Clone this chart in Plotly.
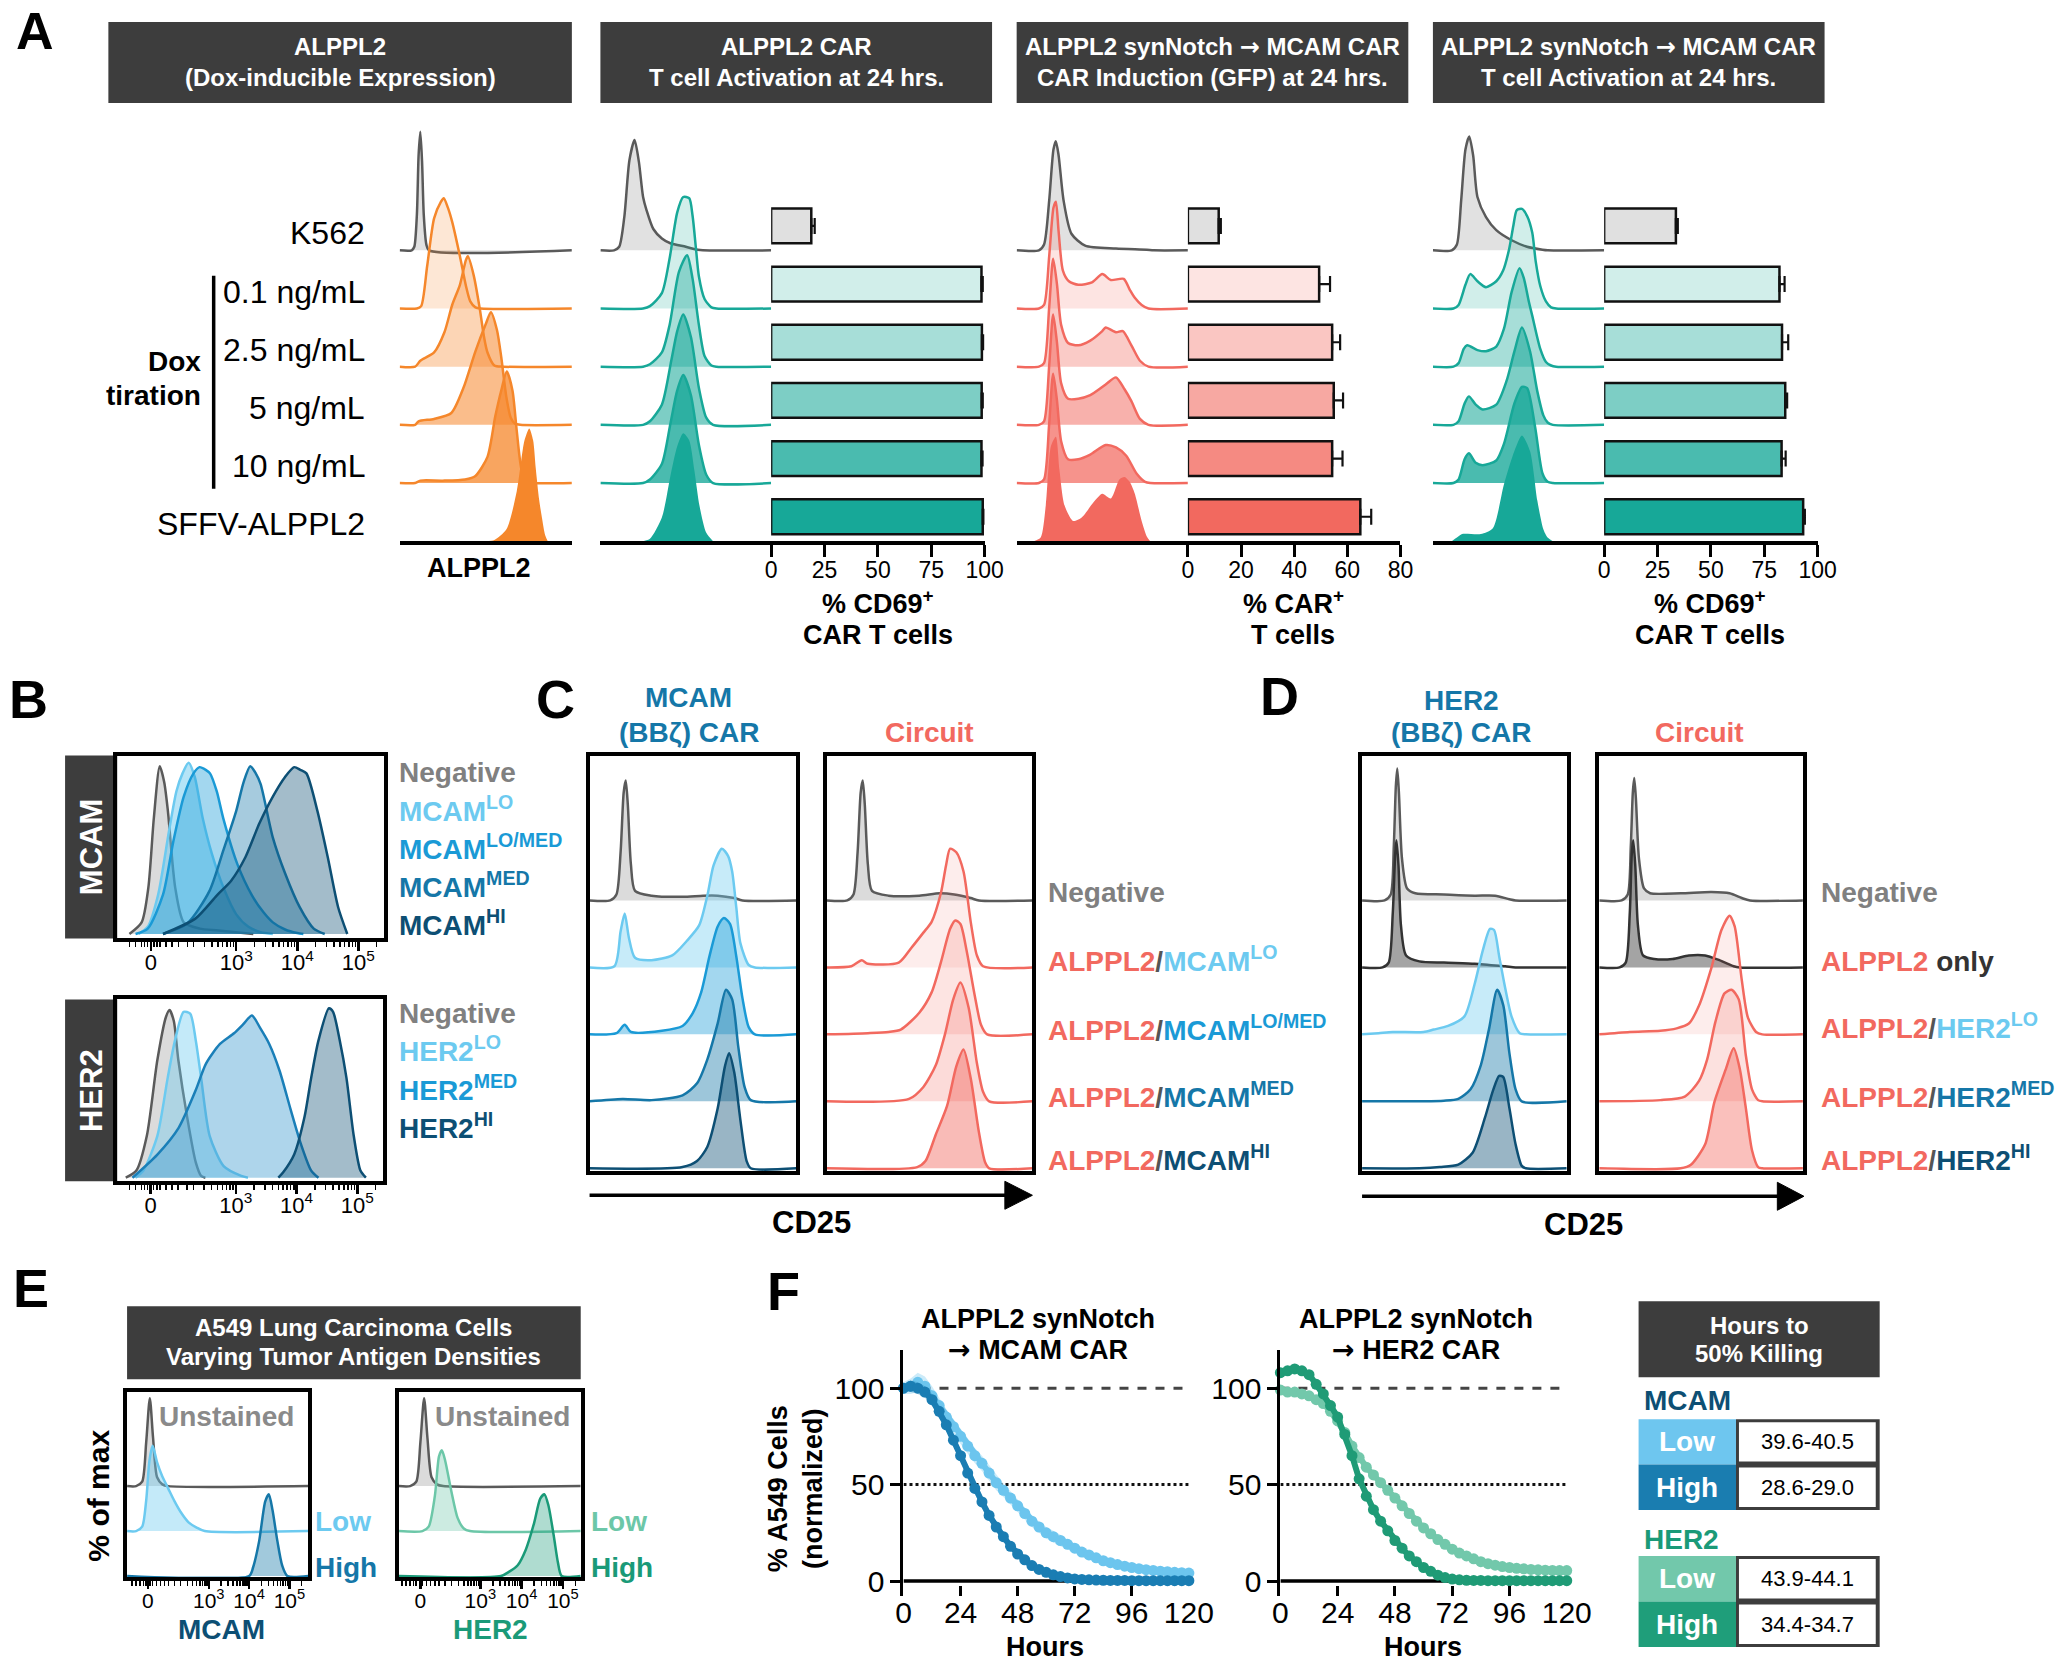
import math
import plotly.graph_objects as go

W, H = 2070, 1664
FONT = "Liberation Sans, Arial, Helvetica, sans-serif"
ARROW = "<span style='font-family:DejaVu Sans'>\u2192</span>"

# ============================ DATA ============================
# ---- Panel A ----
A_headers = [("ALPPL2", "(Dox-inducible Expression)"),
             ("ALPPL2 CAR", "T cell Activation at 24 hrs."),
             ("ALPPL2 synNotch " + ARROW + " MCAM CAR", "CAR Induction (GFP) at 24 hrs."),
             ("ALPPL2 synNotch " + ARROW + " MCAM CAR", "T cell Activation at 24 hrs.")]
A_rows = ["K562", "0.1 ng/mL", "2.5 ng/mL", "5 ng/mL", "10 ng/mL", "SFFV-ALPPL2"]

# histogram outlines: (x as fraction of plot width, height as fraction of peak unit)
A1_K562 = [(0, 0), (0.07, 0), (0.085, 0.03), (0.1, 0.3), (0.11, 0.8), (0.12, 1.0), (0.13, 0.75), (0.14, 0.3), (0.155, 0.05), (0.17, 0), (1, 0)]
A1_01 = [(0, 0), (0.1, 0), (0.125, 0.02), (0.16, 0.36), (0.2, 0.76), (0.24, 0.9), (0.256, 0.93), (0.28, 0.85), (0.305, 0.73), (0.35, 0.44), (0.385, 0.19), (0.41, 0.06), (0.44, 0.01), (0.47, 0), (1, 0)]
A1_25 = [(0, 0), (0.09, 0), (0.12, 0.05), (0.2, 0.12), (0.26, 0.29), (0.305, 0.52), (0.35, 0.69), (0.385, 0.9), (0.396, 0.93), (0.43, 0.77), (0.465, 0.49), (0.49, 0.25), (0.51, 0.12), (0.55, 0.01), (0.6, 0), (1, 0)]
A1_5 = [(0, 0), (0.09, 0), (0.11, 0.03), (0.2, 0.05), (0.3, 0.1), (0.37, 0.31), (0.44, 0.62), (0.5, 0.85), (0.53, 0.95), (0.565, 0.8), (0.59, 0.57), (0.62, 0.23), (0.645, 0.06), (0.67, 0.01), (0.7, 0), (1, 0)]
A1_10 = [(0, 0), (0.09, 0), (0.12, 0.02), (0.25, 0.02), (0.38, 0.03), (0.44, 0.06), (0.51, 0.22), (0.555, 0.56), (0.59, 0.78), (0.622, 0.94), (0.655, 0.78), (0.68, 0.44), (0.71, 0.1), (0.745, 0.01), (0.77, 0), (1, 0)]
A1_SFFV = [(0.5, 0), (0.55, 0.01), (0.62, 0.1), (0.68, 0.42), (0.725, 0.85), (0.753, 0.95), (0.775, 0.85), (0.79, 0.62), (0.81, 0.35), (0.826, 0.2), (0.845, 0.05), (0.86, 0)]

A2_K562 = [(0, 0), (0.08, 0), (0.11, 0.03), (0.14, 0.28), (0.17, 0.76), (0.2, 0.93), (0.225, 0.75), (0.25, 0.45), (0.27, 0.34), (0.31, 0.18), (0.36, 0.1), (0.41, 0.06), (0.5, 0.03), (0.57, 0.005), (0.6, 0), (1, 0)]
A2_01 = [(0, 0), (0.25, 0), (0.29, 0.02), (0.36, 0.13), (0.405, 0.42), (0.45, 0.81), (0.485, 0.94), (0.52, 0.93), (0.54, 0.78), (0.56, 0.5), (0.577, 0.27), (0.61, 0.08), (0.65, 0.01), (0.68, 0), (1, 0)]
A2_25 = [(0, 0), (0.25, 0), (0.29, 0.02), (0.36, 0.12), (0.405, 0.35), (0.46, 0.8), (0.508, 0.94), (0.54, 0.74), (0.577, 0.35), (0.61, 0.09), (0.65, 0.01), (0.68, 0), (1, 0)]
A2_5 = [(0, 0), (0.25, 0), (0.29, 0.03), (0.36, 0.17), (0.415, 0.54), (0.45, 0.79), (0.485, 0.93), (0.53, 0.74), (0.577, 0.31), (0.62, 0.06), (0.66, 0), (1, 0)]
A2_10 = [(0, 0), (0.25, 0), (0.29, 0.03), (0.36, 0.16), (0.41, 0.5), (0.45, 0.78), (0.485, 0.91), (0.53, 0.74), (0.577, 0.32), (0.62, 0.07), (0.66, 0), (1, 0)]
A2_SFFV = [(0.25, 0), (0.29, 0.02), (0.36, 0.2), (0.41, 0.55), (0.45, 0.8), (0.485, 0.91), (0.52, 0.85), (0.55, 0.6), (0.58, 0.3), (0.62, 0.07), (0.66, 0)]

A3_K562 = [(0, 0), (0.13, 0), (0.16, 0.05), (0.19, 0.42), (0.215, 0.85), (0.229, 0.92), (0.245, 0.8), (0.274, 0.42), (0.32, 0.14), (0.4, 0.04), (0.58, 0.015), (0.76, 0.005), (0.8, 0), (1, 0)]
A3_01 = [(0, 0), (0.13, 0), (0.16, 0.03), (0.19, 0.44), (0.215, 0.85), (0.229, 0.9), (0.245, 0.65), (0.27, 0.32), (0.305, 0.23), (0.36, 0.2), (0.44, 0.22), (0.5, 0.29), (0.55, 0.24), (0.625, 0.25), (0.66, 0.16), (0.69, 0.09), (0.73, 0.03), (0.77, 0), (1, 0)]
A3_25 = [(0, 0), (0.13, 0), (0.16, 0.03), (0.19, 0.5), (0.213, 0.91), (0.235, 0.7), (0.26, 0.35), (0.3, 0.2), (0.36, 0.18), (0.43, 0.22), (0.5, 0.3), (0.52, 0.33), (0.58, 0.29), (0.62, 0.3), (0.67, 0.18), (0.72, 0.05), (0.77, 0), (1, 0)]
A3_5 = [(0, 0), (0.13, 0), (0.16, 0.03), (0.19, 0.5), (0.213, 0.93), (0.235, 0.7), (0.26, 0.35), (0.3, 0.22), (0.36, 0.22), (0.43, 0.25), (0.52, 0.34), (0.58, 0.4), (0.63, 0.3), (0.67, 0.2), (0.72, 0.05), (0.77, 0), (1, 0)]
A3_10 = [(0, 0), (0.13, 0), (0.16, 0.03), (0.19, 0.5), (0.213, 0.92), (0.235, 0.7), (0.26, 0.35), (0.3, 0.2), (0.36, 0.2), (0.43, 0.24), (0.52, 0.32), (0.58, 0.3), (0.64, 0.23), (0.7, 0.08), (0.75, 0.01), (0.78, 0), (1, 0)]
A3_SFFV = [(0.1, 0), (0.14, 0.03), (0.17, 0.3), (0.2, 0.8), (0.229, 0.88), (0.25, 0.6), (0.28, 0.3), (0.33, 0.17), (0.38, 0.2), (0.45, 0.33), (0.5, 0.4), (0.55, 0.36), (0.6, 0.52), (0.63, 0.54), (0.66, 0.5), (0.69, 0.4), (0.73, 0.17), (0.76, 0.04), (0.78, 0)]

A4_K562 = [(0, 0), (0.11, 0), (0.14, 0.05), (0.165, 0.42), (0.19, 0.85), (0.212, 0.96), (0.235, 0.8), (0.26, 0.45), (0.31, 0.28), (0.37, 0.17), (0.46, 0.085), (0.55, 0.03), (0.64, 0.005), (0.67, 0), (1, 0)]
A4_01 = [(0, 0), (0.12, 0), (0.15, 0.03), (0.19, 0.2), (0.218, 0.29), (0.26, 0.23), (0.31, 0.18), (0.37, 0.23), (0.41, 0.32), (0.445, 0.5), (0.47, 0.7), (0.49, 0.83), (0.52, 0.84), (0.55, 0.78), (0.58, 0.64), (0.6, 0.4), (0.627, 0.19), (0.66, 0.06), (0.69, 0.01), (0.72, 0), (1, 0)]
A4_25 = [(0, 0), (0.12, 0), (0.15, 0.03), (0.18, 0.15), (0.2, 0.18), (0.26, 0.14), (0.31, 0.13), (0.37, 0.17), (0.415, 0.32), (0.46, 0.63), (0.506, 0.83), (0.53, 0.75), (0.56, 0.55), (0.58, 0.43), (0.627, 0.15), (0.66, 0.04), (0.69, 0.01), (0.72, 0), (1, 0)]
A4_5 = [(0, 0), (0.12, 0), (0.15, 0.03), (0.185, 0.18), (0.21, 0.24), (0.25, 0.17), (0.29, 0.13), (0.37, 0.17), (0.43, 0.37), (0.476, 0.62), (0.52, 0.82), (0.567, 0.62), (0.61, 0.28), (0.645, 0.08), (0.67, 0.02), (0.7, 0), (1, 0)]
A4_10 = [(0, 0), (0.12, 0), (0.15, 0.03), (0.185, 0.2), (0.21, 0.25), (0.25, 0.17), (0.29, 0.15), (0.37, 0.19), (0.415, 0.33), (0.476, 0.67), (0.52, 0.81), (0.55, 0.8), (0.597, 0.47), (0.64, 0.08), (0.67, 0.01), (0.7, 0), (1, 0)]
A4_SFFV = [(0.11, 0), (0.14, 0.03), (0.17, 0.06), (0.28, 0.06), (0.35, 0.11), (0.415, 0.48), (0.476, 0.76), (0.52, 0.89), (0.567, 0.76), (0.61, 0.34), (0.645, 0.1), (0.67, 0.03), (0.7, 0)]

# bar charts (% positive, +SEM)
A2_pct = [18.8, 98.5, 98.7, 98.6, 98.5, 99.1]
A2_sem = [1.6, 0.6, 0.6, 0.5, 0.5, 0.4]
A3_pct = [11.6, 49.4, 54.3, 54.9, 54.3, 64.9]
A3_sem = [0.8, 4.1, 3.0, 3.5, 3.9, 4.1]
A4_pct = [33.6, 82.1, 83.3, 84.8, 83.1, 93.2]
A4_sem = [0.9, 2.4, 2.9, 0.9, 1.9, 0.8]
A2_ticks = [0, 25, 50, 75, 100]
A3_ticks = [0, 20, 40, 60, 80]
A4_ticks = [0, 25, 50, 75, 100]

# ---- Panel B (x in log-decade display units, 0 shown at 1.6) ----
B_ticks = [1.6, 3, 4, 5]
B_ticktext = ["0", "10<sup>3</sup>", "10<sup>4</sup>", "10<sup>5</sup>"]
B_MCAM_neg = [(1.25, 0), (1.45, 0.065), (1.56, 0.26), (1.65, 0.65), (1.747, 0.94), (1.82, 0.85), (1.88, 0.69), (2.0, 0.26), (2.14, 0.065), (2.4, 0.03), (2.71, 0.02), (3.28, 0)]
B_MCAM_lo = [(1.4, 0), (1.55, 0.04), (1.72, 0.22), (1.9, 0.58), (2.02, 0.8), (2.12, 0.9), (2.22, 0.96), (2.32, 0.88), (2.45, 0.65), (2.6, 0.45), (2.79, 0.26), (3.0, 0.11), (3.2, 0.04), (3.4, 0.01), (3.6, 0)]
B_MCAM_lomed = [(1.35, 0), (1.55, 0.03), (1.8, 0.22), (1.97, 0.52), (2.14, 0.77), (2.3, 0.9), (2.4, 0.935), (2.5, 0.92), (2.57, 0.9), (2.68, 0.8), (2.79, 0.645), (3.02, 0.39), (3.26, 0.215), (3.45, 0.12), (3.6, 0.065), (3.8, 0.025), (4.0, 0.005), (4.1, 0)]
B_MCAM_med = [(1.8, 0), (2.2, 0.06), (2.56, 0.24), (2.79, 0.47), (3.0, 0.69), (3.12, 0.85), (3.23, 0.94), (3.32, 0.9), (3.4, 0.84), (3.6, 0.54), (3.8, 0.34), (4.04, 0.15), (4.27, 0.03), (4.45, 0)]
B_MCAM_hi = [(1.8, 0), (2.33, 0.086), (2.68, 0.215), (2.92, 0.3), (3.15, 0.43), (3.38, 0.62), (3.6, 0.77), (3.8, 0.88), (3.95, 0.935), (4.05, 0.92), (4.15, 0.9), (4.33, 0.69), (4.5, 0.43), (4.67, 0.15), (4.82, 0)]
B_HER2_neg = [(1.19, 0), (1.365, 0.04), (1.537, 0.235), (1.71, 0.66), (1.85, 0.9), (1.911, 0.94), (1.98, 0.88), (2.055, 0.66), (2.2, 0.34), (2.342, 0.086), (2.43, 0.01), (2.5, 0)]
B_HER2_lo = [(1.35, 0), (1.48, 0.04), (1.71, 0.235), (1.88, 0.56), (2.0, 0.77), (2.142, 0.93), (2.25, 0.92), (2.342, 0.77), (2.43, 0.56), (2.57, 0.235), (2.8, 0.065), (3.09, 0.01), (3.2, 0)]
B_HER2_med = [(1.3, 0), (1.71, 0.13), (2.06, 0.28), (2.34, 0.49), (2.51, 0.64), (2.74, 0.75), (2.97, 0.81), (3.12, 0.86), (3.265, 0.91), (3.4, 0.84), (3.55, 0.75), (3.72, 0.6), (3.9, 0.385), (4.07, 0.19), (4.24, 0.04), (4.36, 0)]
B_HER2_hi = [(3.7, 0), (3.78, 0.03), (3.96, 0.13), (4.13, 0.34), (4.24, 0.56), (4.36, 0.77), (4.532, 0.95), (4.6, 0.93), (4.71, 0.77), (4.82, 0.56), (4.94, 0.235), (5.05, 0.04), (5.14, 0)]
B_MCAM_labels = ["Negative", "MCAM<sup>LO</sup>", "MCAM<sup>LO/MED</sup>", "MCAM<sup>MED</sup>", "MCAM<sup>HI</sup>"]
B_HER2_labels = ["Negative", "HER2<sup>LO</sup>", "HER2<sup>MED</sup>", "HER2<sup>HI</sup>"]

# ---- Panel C (CD25, x fraction of box) ----
C_car_neg = [(0, 0), (0.1, 0), (0.13, 0.05), (0.15, 0.4), (0.165, 0.9), (0.175, 1.0), (0.185, 0.8), (0.2, 0.3), (0.22, 0.08), (0.3, 0.04), (0.45, 0.03), (0.55, 0.04), (0.62, 0.04), (0.7, 0.02), (0.74, 0), (1, 0)]
C_car_lo = [(0, 0), (0.12, 0.01), (0.15, 0.3), (0.17, 0.45), (0.19, 0.25), (0.22, 0.08), (0.3, 0.06), (0.4, 0.1), (0.47, 0.22), (0.53, 0.35), (0.57, 0.6), (0.6, 0.85), (0.64, 0.99), (0.67, 0.93), (0.69, 0.8), (0.71, 0.5), (0.73, 0.2), (0.77, 0.02), (0.8, 0), (1, 0)]
C_car_lomed = [(0, 0), (0.13, 0.01), (0.17, 0.08), (0.2, 0.02), (0.35, 0.03), (0.45, 0.07), (0.5, 0.18), (0.54, 0.35), (0.58, 0.65), (0.62, 0.9), (0.65, 0.97), (0.68, 0.92), (0.71, 0.65), (0.74, 0.3), (0.77, 0.06), (0.8, 0), (1, 0)]
C_car_med = [(0, 0), (0.16, 0.02), (0.3, 0.01), (0.45, 0.05), (0.52, 0.15), (0.57, 0.35), (0.62, 0.65), (0.66, 0.93), (0.69, 0.85), (0.72, 0.45), (0.75, 0.12), (0.78, 0.01), (1, 0)]
C_car_hi = [(0, 0), (0.45, 0.01), (0.52, 0.06), (0.57, 0.18), (0.62, 0.5), (0.655, 0.85), (0.675, 0.96), (0.7, 0.8), (0.73, 0.4), (0.76, 0.06), (0.78, 0), (1, 0)]
C_cir_neg = [(0, 0), (0.1, 0), (0.13, 0.05), (0.15, 0.4), (0.165, 0.9), (0.175, 1.0), (0.185, 0.8), (0.2, 0.3), (0.22, 0.08), (0.3, 0.04), (0.45, 0.04), (0.55, 0.06), (0.62, 0.05), (0.7, 0.02), (0.74, 0), (1, 0)]
C_cir_lo = [(0, 0), (0.12, 0.01), (0.17, 0.06), (0.2, 0.03), (0.35, 0.04), (0.41, 0.16), (0.47, 0.29), (0.51, 0.38), (0.555, 0.62), (0.58, 0.85), (0.6, 0.99), (0.63, 0.96), (0.665, 0.8), (0.7, 0.38), (0.73, 0.1), (0.76, 0.01), (1, 0)]
C_cir_lomed = [(0, 0), (0.2, 0.01), (0.3, 0.02), (0.36, 0.04), (0.45, 0.18), (0.51, 0.35), (0.555, 0.6), (0.6, 0.88), (0.625, 0.95), (0.65, 0.92), (0.68, 0.7), (0.72, 0.32), (0.75, 0.08), (0.78, 0), (1, 0)]
C_cir_med = [(0, 0), (0.4, 0.02), (0.47, 0.12), (0.53, 0.3), (0.575, 0.56), (0.615, 0.85), (0.65, 0.99), (0.69, 0.78), (0.73, 0.32), (0.76, 0.08), (0.79, 0), (1, 0)]
C_cir_hi = [(0, 0), (0.44, 0.01), (0.48, 0.06), (0.53, 0.28), (0.585, 0.52), (0.63, 0.85), (0.665, 0.99), (0.7, 0.75), (0.74, 0.3), (0.77, 0.05), (0.79, 0), (1, 0)]

# ---- Panel D ----
D_car_neg = [(0, 0), (0.11, 0), (0.14, 0.05), (0.155, 0.45), (0.165, 0.95), (0.172, 1.1), (0.18, 0.9), (0.195, 0.35), (0.22, 0.1), (0.26, 0.06), (0.4, 0.05), (0.55, 0.04), (0.65, 0.04), (0.72, 0.01), (0.75, 0), (1, 0)]
D_car_only = [(0, 0), (0.1, 0), (0.13, 0.04), (0.15, 0.45), (0.162, 0.95), (0.168, 1.06), (0.178, 0.85), (0.19, 0.35), (0.215, 0.1), (0.28, 0.05), (0.4, 0.04), (0.55, 0.03), (0.62, 0.02), (0.7, 0.01), (0.75, 0), (1, 0)]
D_car_lo = [(0, 0), (0.08, 0.01), (0.15, 0.02), (0.3, 0.02), (0.35, 0.04), (0.42, 0.07), (0.5, 0.15), (0.55, 0.42), (0.59, 0.7), (0.625, 0.88), (0.645, 0.87), (0.67, 0.65), (0.7, 0.38), (0.73, 0.15), (0.77, 0.01), (0.8, 0), (1, 0)]
D_car_med = [(0, 0), (0.4, 0.005), (0.47, 0.02), (0.53, 0.1), (0.58, 0.3), (0.62, 0.6), (0.66, 0.93), (0.69, 0.8), (0.72, 0.4), (0.75, 0.1), (0.78, 0), (1, 0)]
D_car_hi = [(0, 0), (0.28, 0), (0.38, 0.01), (0.47, 0.03), (0.54, 0.13), (0.6, 0.42), (0.64, 0.65), (0.67, 0.77), (0.69, 0.76), (0.72, 0.5), (0.75, 0.2), (0.78, 0.02), (0.8, 0), (1, 0)]
D_cir_neg = [(0, 0), (0.11, 0), (0.14, 0.05), (0.155, 0.45), (0.165, 0.9), (0.172, 1.02), (0.18, 0.85), (0.195, 0.35), (0.22, 0.1), (0.25, 0.06), (0.4, 0.06), (0.55, 0.07), (0.64, 0.06), (0.7, 0.02), (0.74, 0), (1, 0)]
D_cir_only = [(0, 0), (0.1, 0), (0.13, 0.04), (0.15, 0.45), (0.16, 0.95), (0.167, 1.06), (0.177, 0.85), (0.19, 0.35), (0.215, 0.1), (0.27, 0.07), (0.36, 0.07), (0.44, 0.1), (0.52, 0.1), (0.59, 0.06), (0.66, 0.01), (0.69, 0), (1, 0)]
D_cir_lo = [(0, 0), (0.15, 0.02), (0.3, 0.03), (0.38, 0.05), (0.44, 0.09), (0.49, 0.24), (0.55, 0.55), (0.6, 0.87), (0.64, 0.99), (0.665, 0.9), (0.7, 0.45), (0.73, 0.14), (0.77, 0.02), (0.8, 0), (1, 0)]
D_cir_med = [(0, 0), (0.3, 0.01), (0.42, 0.04), (0.49, 0.17), (0.53, 0.35), (0.57, 0.66), (0.615, 0.9), (0.65, 0.93), (0.685, 0.85), (0.72, 0.38), (0.75, 0.1), (0.78, 0.01), (0.8, 0), (1, 0)]
D_cir_hi = [(0, 0), (0.4, 0), (0.45, 0.03), (0.52, 0.2), (0.565, 0.55), (0.62, 0.82), (0.66, 1.0), (0.69, 0.83), (0.72, 0.5), (0.75, 0.15), (0.78, 0.01), (0.8, 0), (1, 0)]

# ---- Panel E ----
E_ticks_mcam = [1.49, 3, 4, 5]
E_ticks_her2 = [1.55, 3, 4, 5]
E_MCAM_unst = [(1.2, 0), (1.35, 0.05), (1.45, 0.5), (1.54, 1.0), (1.62, 0.55), (1.72, 0.1), (1.85, 0.02), (2.0, 0)]
E_MCAM_low = [(1.2, 0), (1.35, 0.05), (1.45, 0.35), (1.53, 0.8), (1.61, 0.97), (1.72, 0.78), (1.85, 0.62), (2.0, 0.48), (2.15, 0.34), (2.3, 0.22), (2.5, 0.1), (2.7, 0.04), (2.9, 0)]
E_MCAM_high = [(4.0, 0), (4.1, 0.1), (4.25, 0.4), (4.4, 0.85), (4.49, 0.93), (4.58, 0.75), (4.7, 0.4), (4.82, 0.12), (4.95, 0)]
E_HER2_unst = [(1.3, 0), (1.45, 0.05), (1.55, 0.5), (1.64, 1.0), (1.72, 0.55), (1.82, 0.1), (1.95, 0.02), (2.1, 0)]
E_HER2_low = [(1.6, 0), (1.75, 0.05), (1.9, 0.4), (2.0, 0.85), (2.07, 0.92), (2.15, 0.8), (2.3, 0.45), (2.45, 0.15), (2.6, 0.03), (2.75, 0)]
E_HER2_high = [(3.5, 0), (3.7, 0.05), (3.9, 0.12), (4.1, 0.3), (4.3, 0.6), (4.45, 0.88), (4.55, 0.93), (4.65, 0.8), (4.78, 0.45), (4.88, 0.15), (4.97, 0)]

# ---- Panel F (killing kinetics) ----
F_hours = [0, 3, 6, 9, 12, 15, 18, 21, 24, 27, 30, 33, 36, 39, 42, 45, 48, 51, 54, 57, 60,
           63, 66, 69, 72, 75, 78, 81, 84, 87, 90, 93, 96, 99, 102, 105, 108, 111, 114, 117, 120]
F_mcam_low = [100, 101, 103, 101, 96, 91, 85, 80, 75, 70, 65, 61, 56, 51, 47, 43, 39, 35, 31, 28, 25,
              23, 21, 19, 17, 15, 13.5, 12, 10.5, 9.5, 8.5, 7.7, 7, 6.4, 5.9, 5.5, 5.1, 4.8, 4.5, 4.3, 4.1]
F_mcam_low_sd = [3, 4, 5, 5, 5, 4, 4, 4, 4, 4, 4, 4, 4, 4, 3.5, 3.5, 3.5, 3.5, 3, 3, 3,
                 3, 3, 2.5, 2.5, 2.5, 2.5, 2, 2, 2, 2, 2, 2, 2, 2, 2, 2, 2, 2, 2, 2]
F_mcam_high = [100, 101, 100, 98, 94, 88, 81, 73, 65, 56, 48, 41, 34, 28, 23, 18, 14, 11, 8, 6, 4.5,
               3.2, 2.3, 1.6, 1.1, 0.8, 0.6, 0.5, 0.4, 0.3, 0.3, 0.3, 0.2, 0.2, 0.2, 0.2, 0.2, 0.2, 0.2, 0.2, 0.2]
F_mcam_high_sd = [2, 3, 3, 3, 3, 3, 3, 3, 3, 3, 3, 2.5, 2.5, 2.5, 2, 2, 2, 2, 1.5, 1.5, 1.5,
                  1, 1, 1, 1, 1, 1, 1, 1, 1, 1, 1, 1, 1, 1, 1, 1, 1, 1, 1, 1]
F_her2_low = [99, 98, 98, 97, 96, 94, 92, 88, 83, 77, 70, 64, 59, 55, 51, 47, 43, 39, 35, 31, 27.5,
              24.5, 21.5, 19, 16.5, 14.5, 13, 11.5, 10, 9, 8.2, 7.5, 7, 6.6, 6.3, 6, 5.8, 5.6, 5.5, 5.4, 5.4]
F_her2_high = [108, 109, 110, 109, 107, 102, 97, 91, 85, 76, 65, 53, 44, 37, 31, 26, 21, 17, 13, 10, 7,
               5, 3, 1.8, 1, 0.6, 0.4, 0.3, 0.3, 0.2, 0.2, 0.2, 0.2, 0.2, 0.2, 0.2, 0.2, 0.2, 0.2, 0.2, 0.2]
F_xticks = [0, 24, 48, 72, 96, 120]
F_yticks = [0, 50, 100]

# ---- Table ----
T_levels = ["Low", "High"]
T_mcam = ["39.6-40.5", "28.6-29.0"]
T_her2 = ["43.9-44.1", "34.4-34.7"]

# ============================ STYLE ============================
GRAYL = "#5a5a5a"
GRAYF = "rgba(175,175,175,0.45)"
NEG_T = "#808080"
ORANGE = "#f5872b"
TEAL = "#17a898"
SALMON = "#f2695f"
LB, B2, B3, B4 = "#6ccaf0", "#1a9ad6", "#1577a8", "#0d4f74"
GL, GD = "#6cc7a8", "#1a9a78"
DARKBOX = "#3d3d3d"


def rgba(hexc, a):
    hexc = hexc.lstrip('#')
    r, g, b = int(hexc[0:2], 16), int(hexc[2:4], 16), int(hexc[4:6], 16)
    return f"rgba({r},{g},{b},{a})"


fig = go.Figure()
layout = {}
ann = []
shp = []
nax = [0]


def make_axes(x0, x1, ytop, ybot, xr, yr, xo=None, yo=None):
    nax[0] += 1
    s = '' if nax[0] == 1 else str(nax[0])
    xd = dict(domain=[x0 / W, x1 / W], range=xr, anchor='y' + s, showgrid=False, zeroline=False,
              showticklabels=False, ticks='', showline=False, fixedrange=True)
    yd = dict(domain=[1 - ybot / H, 1 - ytop / H], range=yr, anchor='x' + s, showgrid=False,
              zeroline=False, showticklabels=False, ticks='', showline=False, fixedrange=True)
    if xo:
        xd.update(xo)
    if yo:
        yd.update(yo)
    layout['xaxis' + s] = xd
    layout['yaxis' + s] = yd
    return ('x' + s, 'y' + s)


def ridge(ax, pts, base, unit, lc, fc, lw=2.5, show_line=True, span=None):
    p = list(pts)
    if span is not None:
        p = [(span[0], 0)] + p + [(span[1], 0)]
    xs = [q[0] for q in p]
    ys = [base + q[1] * unit for q in p]
    fig.add_trace(go.Scatter(
        x=xs, y=ys, xaxis=ax[0], yaxis=ax[1], mode='lines', fill='toself', fillcolor=fc,
        line=dict(color=lc if show_line else 'rgba(0,0,0,0)', width=lw if show_line else 0,
                  shape='spline', smoothing=0.7),
        hoverinfo='skip', showlegend=False))


def txt(x, y, s, size, color='black', bold=False, xanchor='center', yanchor='middle', angle=0):
    if bold:
        s = '<b>' + s + '</b>'
    ann.append(dict(x=x / W, y=1 - y / H, xref='paper', yref='paper', text=s, showarrow=False,
                    font=dict(size=size, color=color, family=FONT), xanchor=xanchor,
                    yanchor=yanchor, textangle=angle))


def rect(x0, y0, x1, y1, fill):
    shp.append(dict(type='rect', xref='paper', yref='paper', x0=x0 / W, x1=x1 / W,
                    y0=1 - y1 / H, y1=1 - y0 / H, fillcolor=fill,
                    line=dict(width=0), layer='below'))


def pline(x0, y0, x1, y1, w, color='black'):
    shp.append(dict(type='line', xref='paper', yref='paper', x0=x0 / W, x1=x1 / W,
                    y0=1 - y0 / H, y1=1 - y1 / H, line=dict(color=color, width=w)))


def tri(xa, ya, xb, yb, xc, yc):
    path = (f"M {xa / W},{1 - ya / H} L {xb / W},{1 - yb / H} L {xc / W},{1 - yc / H} Z")
    shp.append(dict(type='path', xref='paper', yref='paper', path=path, fillcolor='black',
                    line=dict(color='black', width=1)))


def tf(size):
    return dict(size=size, family=FONT, color='black')


BOX = dict(showline=True, mirror=True, linewidth=4, linecolor='black')

# ============================ PANEL A ============================
txt(27, 31, 'A', 52, bold=True)
hdr_x = [(102, 573), (602, 1000), (1025, 1423), (1448, 1846)]
for (x0, x1), (l1, l2) in zip(hdr_x, A_headers):
    rect(x0, 22, x1, 103, DARKBOX)
    txt((x0 + x1) / 2, 47, l1, 24, 'white', bold=True)
    txt((x0 + x1) / 2, 78, l2, 24, 'white', bold=True)

A_BASE, A_ROW = 541.5, 58.2
A_YR = [0, 7.2]
A_TOP = A_BASE - A_YR[1] * A_ROW
A_UNIT = 118.7 / A_ROW
A_OFF = 0.42
hist_xo = dict(showline=True, linewidth=4, linecolor='black')


def a_hist(x0, x1, hists, color, alphas):
    ax = make_axes(x0, x1, A_TOP, A_BASE, [0, 1], A_YR, xo=hist_xo)
    for i, pts in enumerate(hists):
        base = 5 - i
        if i == 0:
            ridge(ax, pts, base, A_UNIT, GRAYL, 'rgba(205,205,205,0.6)')
        elif i < 5:
            ridge(ax, pts, base, A_UNIT, color, rgba(color, alphas[i - 1]))
        else:
            ridge(ax, pts, base, A_UNIT, color, color, show_line=False)


def a_bars(x0, x1, xmax, ticks, pct, sem, color, alphas):
    ax = make_axes(x0, x1, A_TOP, A_BASE, [0, xmax], A_YR,
                   xo=dict(showline=True, linewidth=4, linecolor='black', ticks='outside',
                           ticklen=12, tickwidth=3, tickcolor='black', tickvals=ticks,
                           showticklabels=True, tickfont=tf(23), ticklabelstandoff=-7))
    cols = ['#e0e0e0'] + [rgba(color, a) for a in alphas] + [color]
    fig.add_trace(go.Bar(
        x=pct, y=[5 - i + A_OFF for i in range(6)], orientation='h', width=0.6,
        xaxis=ax[0], yaxis=ax[1],
        marker=dict(color=cols, line=dict(color='#111111', width=2.5)),
        error_x=dict(type='data', array=sem, arrayminus=[0] * len(sem), symmetric=False,
                     color='#111111', thickness=2.2, width=8),
        hoverinfo='skip', showlegend=False))


a_hist(398, 573, [A1_K562, A1_01, A1_25, A1_5, A1_10, A1_SFFV], ORANGE, [0.2, 0.35, 0.55, 0.75])
a_hist(602, 775.5, [A2_K562, A2_01, A2_25, A2_5, A2_10, A2_SFFV], TEAL, [0.2, 0.38, 0.56, 0.78])
a_bars(775.5, 992.5, 100, A2_ticks, A2_pct, A2_sem, TEAL, [0.2, 0.38, 0.56, 0.78])
a_hist(1025, 1199, [A3_K562, A3_01, A3_25, A3_5, A3_10, A3_SFFV], SALMON, [0.18, 0.35, 0.52, 0.72])
a_bars(1199, 1415, 80, A3_ticks, A3_pct, A3_sem, SALMON, [0.18, 0.38, 0.58, 0.78])
a_hist(1448, 1622, [A4_K562, A4_01, A4_25, A4_5, A4_10, A4_SFFV], TEAL, [0.2, 0.38, 0.56, 0.78])
a_bars(1622, 1839, 100, A4_ticks, A4_pct, A4_sem, TEAL, [0.2, 0.38, 0.56, 0.78])

for i, lab in enumerate(A_rows):
    txt(365, A_BASE - (5 - i) * A_ROW - 17, lab, 32, xanchor='right')
txt(198, 362, 'Dox', 28, bold=True, xanchor='right')
txt(198, 396, 'tiration', 28, bold=True, xanchor='right')
pline(209, 276, 209, 489, 3.5)
txt(479, 568, 'ALPPL2', 27, bold=True)
for cx, l1, l2 in [(884, '% CD69<sup>+</sup>', 'CAR T cells'), (1306, '% CAR<sup>+</sup>', 'T cells'),
                   (1730, '% CD69<sup>+</sup>', 'CAR T cells')]:
    txt(cx, 602, l1, 27, bold=True)
    txt(cx, 635, l2, 27, bold=True)

# ============================ PANEL B ============================
txt(21, 699, 'B', 54, bold=True)
minorB = [1.25, 1.35, 1.45, 1.5, 1.55, 1.65, 1.7, 1.75, 1.85, 1.95, 2.05, 2.2] + \
         [round(math.log10(k * 10 ** n), 3) for n in (2, 3, 4) for k in range(2, 10)] + [5.301]
b_xo = dict(**BOX, ticks='outside', ticklen=9, tickwidth=2.5, tickcolor='black', tickmode='array',
            tickvals=B_ticks, ticktext=B_ticktext, showticklabels=True, tickfont=tf(22),
            ticklabelstandoff=-8,
            minor=dict(ticks='outside', ticklen=5, tickwidth=1.5, tickcolor='black',
                       tickmode='array', tickvals=minorB))
b_cols = [(GRAYL, GRAYF), (LB, rgba(LB, 0.5)), (B2, rgba(B2, 0.4)), (B3, rgba(B3, 0.38)), (B4, rgba(B4, 0.38))]
bm = make_axes(111, 382, 756, 939, [1.05, 5.42], [-0.025, 1.0], xo=b_xo, yo=BOX)
for pts, (lc, fc) in zip([B_MCAM_neg, B_MCAM_lo, B_MCAM_lomed, B_MCAM_med, B_MCAM_hi], b_cols):
    ridge(bm, pts, 0, 1, lc, fc, lw=2.5)
bh = make_axes(111, 381, 1000, 1182, [1.05, 5.42], [-0.02, 1.0], xo=b_xo, yo=BOX)
h_cols = [(GRAYL, GRAYF), (LB, rgba(LB, 0.4)), ("#1a7fb8", rgba("#3d9bd0", 0.42)), (B4, rgba(B4, 0.38))]
for pts, (lc, fc) in zip([B_HER2_neg, B_HER2_lo, B_HER2_med, B_HER2_hi], h_cols):
    ridge(bh, pts, 0, 1, lc, fc, lw=2.5)
rect(58, 756, 111, 939, DARKBOX)
rect(58, 1000, 111, 1182, DARKBOX)
txt(85, 848, 'MCAM', 31, 'white', bold=True, angle=-90)
txt(85, 1091, 'HER2', 31, 'white', bold=True, angle=-90)
for lab, y, c in zip(B_MCAM_labels, [773, 809, 848, 886, 924], [NEG_T, LB, B2, B3, B4]):
    txt(395, y, lab, 28, c, bold=True, xanchor='left')
for lab, y, c in zip(B_HER2_labels, [1014, 1050, 1089, 1127], [NEG_T, LB, B2, B4]):
    txt(395, y, lab, 28, c, bold=True, xanchor='left')

# ============================ PANELS C & D ============================
CD_YR = [-0.045, 6.164]
CD_UNIT = 120 / 67.0


def cd_box(x0, x1, hists, styles):
    ax = make_axes(x0, x1, 756, 1172, [0, 1], CD_YR, xo=BOX, yo=BOX)
    for i, (pts, (lc, fc)) in enumerate(zip(hists, styles)):
        ridge(ax, pts, 4 - i, CD_UNIT, lc, fc, lw=2.5)


car_styles = [(GRAYL, GRAYF), (LB, rgba(LB, 0.38)), (B2, rgba(B2, 0.4)), (B3, rgba(B3, 0.42)), (B4, rgba(B4, 0.42))]
cir_styles = [(GRAYL, GRAYF), (SALMON, rgba(SALMON, 0.12)), (SALMON, rgba(SALMON, 0.18)),
              (SALMON, rgba(SALMON, 0.24)), (SALMON, rgba(SALMON, 0.45))]
txt(556, 699, 'C', 54, bold=True)
cd_box(591, 801, [C_car_neg, C_car_lo, C_car_lomed, C_car_med, C_car_hi], car_styles)
cd_box(832, 1041, [C_cir_neg, C_cir_lo, C_cir_lomed, C_cir_med, C_cir_hi], cir_styles)
txt(692, 698, 'MCAM', 28, B3, bold=True)
txt(692, 733, '(BB\u03b6) CAR', 28, B3, bold=True)
txt(936, 733, 'Circuit', 28, SALMON, bold=True)
pline(591, 1196, 1015, 1196, 3.5)
tri(1013, 1182, 1041, 1196, 1013, 1210)
txt(817, 1223, 'CD25', 31, bold=True)


def circ_lab(target, sup, color):
    return (f"<span style='color:{SALMON}'>ALPPL2</span><span style='color:#555555'>/</span>"
            f"<span style='color:{color}'>{target}<sup>{sup}</sup></span>")


C_labels = [f"<span style='color:{NEG_T}'>Negative</span>", circ_lab('MCAM', 'LO', LB),
            circ_lab('MCAM', 'LO/MED', B2), circ_lab('MCAM', 'MED', B3), circ_lab('MCAM', 'HI', B4)]
for lab, y in zip(C_labels, [893, 960, 1029, 1096, 1159]):
    txt(1055, y, lab, 28, bold=True, xanchor='left')

txt(1292, 696, 'D', 54, bold=True)
d_car_styles = [(GRAYL, GRAYF), ("#333333", "rgba(90,90,90,0.55)"), (LB, rgba(LB, 0.38)),
                (B3, rgba(B3, 0.42)), (B4, rgba(B4, 0.42))]
d_cir_styles = [(GRAYL, GRAYF), ("#333333", "rgba(90,90,90,0.55)"), (SALMON, rgba(SALMON, 0.12)),
                (SALMON, rgba(SALMON, 0.2)), (SALMON, rgba(SALMON, 0.42))]
cd_box(1376, 1584, [D_car_neg, D_car_only, D_car_lo, D_car_med, D_car_hi], d_car_styles)
cd_box(1617, 1824, [D_cir_neg, D_cir_only, D_cir_lo, D_cir_med, D_cir_hi], d_cir_styles)
txt(1477, 701, 'HER2', 28, B3, bold=True)
txt(1477, 733, '(BB\u03b6) CAR', 28, B3, bold=True)
txt(1719, 733, 'Circuit', 28, SALMON, bold=True)
pline(1376, 1197, 1800, 1197, 3.5)
tri(1798, 1183, 1825, 1197, 1798, 1211)
txt(1601, 1225, 'CD25', 31, bold=True)
D_labels = [f"<span style='color:{NEG_T}'>Negative</span>",
            f"<span style='color:{SALMON}'>ALPPL2</span><span style='color:#333333'> only</span>",
            circ_lab('HER2', 'LO', LB), circ_lab('HER2', 'MED', B3), circ_lab('HER2', 'HI', B4)]
for lab, y in zip(D_labels, [893, 962, 1027, 1096, 1159]):
    txt(1840, y, lab, 28, bold=True, xanchor='left')

# ============================ PANEL E ============================
txt(23, 1289, 'E', 54, bold=True)
rect(121, 1307, 582, 1380, DARKBOX)
txt(351.5, 1328, 'A549 Lung Carcinoma Cells', 24, 'white', bold=True)
txt(351.5, 1357, 'Varying Tumor Antigen Densities', 24, 'white', bold=True)
E_YR = [-0.022, 4.089]
E_UNIT = 88 / 45.0
minorE = [1.1, 1.2, 1.3, 1.38, 1.44, 1.54, 1.6, 1.7, 1.8, 1.9, 2.0, 2.15] + \
         [round(math.log10(k * 10 ** n), 3) for n in (2, 3, 4) for k in range(2, 10)] + [5.301]


def e_box(x0, x1, xr, ticks, hists, styles):
    ax = make_axes(x0, x1, 1393, 1578, xr, E_YR,
                   xo=dict(**BOX, ticks='outside', ticklen=8, tickwidth=2.5, tickcolor='black',
                           tickmode='array', tickvals=ticks, ticktext=B_ticktext,
                           showticklabels=True, tickfont=tf(21), ticklabelstandoff=-6,
                           minor=dict(ticks='outside', ticklen=5, tickwidth=1.5, tickcolor='black',
                                      tickmode='array', tickvals=minorE)),
                   yo=BOX)
    for i, (pts, (lc, fc)) in enumerate(zip(hists, styles)):
        ridge(ax, pts, 2 - i, E_UNIT, lc, fc, lw=2.5, span=xr)


e_box(121, 305, [0.976, 5.463], E_ticks_mcam, [E_MCAM_unst, E_MCAM_low, E_MCAM_high],
      [(GRAYL, GRAYF), (LB, rgba(LB, 0.4)), (B3, rgba(B3, 0.4))])
e_box(397, 582, [1.024, 5.43], E_ticks_her2, [E_HER2_unst, E_HER2_low, E_HER2_high],
      [(GRAYL, GRAYF), (GL, rgba(GL, 0.35)), (GD, rgba(GD, 0.35))])
txt(293, 1417, 'Unstained', 28, '#8a8a8a', bold=True, xanchor='right')
txt(573, 1417, 'Unstained', 28, '#8a8a8a', bold=True, xanchor='right')
txt(310, 1522, 'Low', 28, LB, bold=True, xanchor='left')
txt(310, 1568, 'High', 28, B3, bold=True, xanchor='left')
txt(590, 1522, 'Low', 28, GL, bold=True, xanchor='left')
txt(590, 1568, 'High', 28, GD, bold=True, xanchor='left')
txt(217, 1630, 'MCAM', 28, B4, bold=True)
txt(490, 1630, 'HER2', 28, GD, bold=True)
txt(92, 1497, '% of max', 30, bold=True, angle=-90)

# ============================ PANEL F ============================
txt(788, 1292, 'F', 54, bold=True)
f_xo = dict(ticks='inside', ticklen=10, tickwidth=3, tickcolor='black', tickvals=F_xticks,
            showticklabels=True, tickfont=tf(30), ticklabelstandoff=-4)
f_yo = dict(showline=True, linewidth=3, linecolor='black', ticks='outside', ticklen=10, tickwidth=3,
            tickcolor='black', tickvals=F_yticks, showticklabels=True, tickfont=tf(30))


def f_plot(x0, x1, series):
    ax = make_axes(x0, x1, 1350.4, 1597.4, [0, 120], [-8, 120], xo=f_xo, yo=f_yo)
    for yv, dash, col in [(100, 'dash', '#444444'), (50, 'dot', '#111111')]:
        shp.append(dict(type='line', xref=ax[0], yref=ax[1], x0=0, x1=120, y0=yv, y1=yv,
                        line=dict(color=col, width=3, dash=dash), layer='below'))
    shp.append(dict(type='line', xref=ax[0], yref=ax[1], x0=0, x1=120, y0=0, y1=0,
                    line=dict(color='black', width=3.5), layer='below'))
    for vals, sd, col in series:
        if sd is not None:
            fig.add_trace(go.Scatter(x=F_hours, y=[v + s for v, s in zip(vals, sd)], mode='lines',
                                     line=dict(width=0, color=col), xaxis=ax[0], yaxis=ax[1],
                                     hoverinfo='skip', showlegend=False))
            fig.add_trace(go.Scatter(x=F_hours, y=[v - s for v, s in zip(vals, sd)], mode='lines',
                                     line=dict(width=0, color=col), fill='tonexty',
                                     fillcolor=rgba(col, 0.35), xaxis=ax[0], yaxis=ax[1],
                                     hoverinfo='skip', showlegend=False))
        fig.add_trace(go.Scatter(x=F_hours, y=vals, mode='lines+markers',
                                 line=dict(color=col, width=6), marker=dict(size=11, color=col),
                                 cliponaxis=False, xaxis=ax[0], yaxis=ax[1],
                                 hoverinfo='skip', showlegend=False))


f_plot(910, 1200, [(F_mcam_low, F_mcam_low_sd, "#6cc5ee"), (F_mcam_high, F_mcam_high_sd, "#1a7db3")])
f_plot(1293, 1584, [(F_her2_low, None, "#72c8ab"), (F_her2_high, None, "#1f9b76")])
txt(1047, 1320, 'ALPPL2 synNotch', 27, bold=True)
txt(1047, 1350, ARROW + ' MCAM CAR', 27, bold=True)
txt(1431, 1320, 'ALPPL2 synNotch', 27, bold=True)
txt(1431, 1350, ARROW + ' HER2 CAR', 27, bold=True)
txt(800, 1490, '% A549 Cells<br>(normalized)', 27, bold=True, angle=-90)
txt(1054, 1648, 'Hours', 27, bold=True)
txt(1438, 1648, 'Hours', 27, bold=True)

# ---- table ----
rect(1657, 1302, 1902, 1378, DARKBOX)
txt(1779.5, 1326, 'Hours to', 24, 'white', bold=True)
txt(1779.5, 1354, '50% Killing', 24, 'white', bold=True)


def table_block(ytitle, title, tcolor, y0, vals, cols):
    txt(1660, ytitle, title, 28, tcolor, bold=True, xanchor='left')
    ym = (y0 + y0 + 91) / 2
    rect(1756, y0, 1902, y0 + 91, DARKBOX)
    for k, (lev, val, c) in enumerate(zip(T_levels, vals, cols)):
        ya, yb = (y0, ym) if k == 0 else (ym, y0 + 91)
        rect(1657, ya, 1756, yb, c)
        rect(1759, ya + 3, 1898, yb - 3, 'white')
        txt(1706, (ya + yb) / 2, lev, 28, 'white', bold=True)
        txt(1829, (ya + yb) / 2, val, 22, 'black')


table_block(1401, 'MCAM', B4, 1420, T_mcam, ['#6ec6ef', '#1a7db0'])
table_block(1540, 'HER2', GD, 1557, T_her2, ['#72c8ab', '#1f9e7a'])

layout.update(dict(width=W, height=H, margin=dict(l=0, r=0, t=0, b=0), paper_bgcolor='white',
                   plot_bgcolor='rgba(0,0,0,0)', showlegend=False, annotations=ann, shapes=shp,
                   font=dict(family=FONT, color='black')))
fig.update_layout(**layout)
fig.write_html("out.html", config={'displayModeBar': False, 'staticPlot': True},
               post_script="document.body.style.margin='0';document.body.style.overflow='hidden';")
